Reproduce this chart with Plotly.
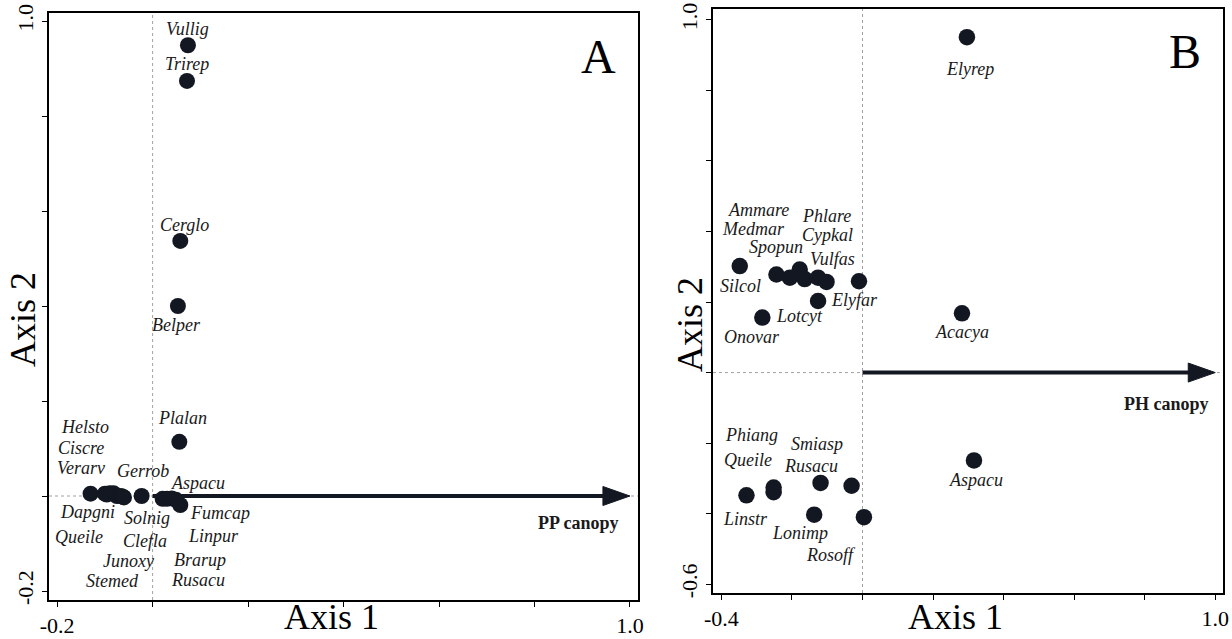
import plotly.graph_objects as go

# ---------------- Data ----------------
# Panel A (PP canopy)
a_species = ["Vullig", "Trirep", "Cerglo", "Belper", "Plalan", "Dapgni", "Helsto", "Ciscre",
             "Verarv", "Queile", "Stemed", "Junoxy", "Clefla", "Solnig", "Gerrob", "Aspacu",
             "Rusacu", "Linpur", "Brarup", "Fumcap"]
a_axis1 = [0.074, 0.072, 0.058, 0.053, 0.056, -0.130, -0.100, -0.090, -0.082, -0.075, -0.096,
           -0.060, -0.066, -0.062, -0.023, 0.021, 0.030, 0.040, 0.049, 0.058]
a_axis2 = [0.949, 0.874, 0.537, 0.400, 0.114, 0.005, 0.005, 0.006, 0.006, 0.000, 0.003,
           -0.003, 0.000, -0.002, 0.000, -0.006, -0.006, -0.005, -0.008, -0.019]
a_env_name = "PP canopy"
a_env_vector = (1.0, 0.0)

# Panel B (PH canopy)
b_species = ["Elyrep", "Acacya", "Aspacu", "Silcol", "Spopun", "Ammare", "Medmar", "Phlare",
             "Cypkal", "Vulfas", "Elyfar", "Lotcyt", "Onovar", "Linstr", "Phiang", "Queile",
             "Smiasp", "Rusacu", "Lonimp", "Rosoff"]
b_axis1 = [0.296, 0.282, 0.316, -0.348, -0.244, -0.206, -0.178, -0.164, -0.126, -0.102, -0.010,
           -0.126, -0.284, -0.329, -0.252, -0.252, -0.119, -0.031, -0.137, 0.004]
b_axis2 = [0.951, 0.168, -0.249, 0.302, 0.278, 0.269, 0.292, 0.265, 0.269, 0.257, 0.259,
           0.203, 0.156, -0.348, -0.326, -0.339, -0.313, -0.321, -0.403, -0.410]
b_env_name = "PH canopy"
b_env_vector = (1.0, 0.0)

# Tick labels
a_xticks = [-0.2, 0.0, 0.2, 0.4, 0.6, 0.8, 1.0]
a_xticktext = ["-0.2", "", "", "", "", "", "1.0"]
a_yticks = [-0.2, 0.0, 0.2, 0.4, 0.6, 0.8, 1.0]
a_yticktext = ["-0.2", "", "", "", "", "", "1.0"]
b_xticks = [-0.4, -0.2, 0.0, 0.2, 0.4, 0.6, 0.8, 1.0]
b_xticktext = ["-0.4", "", "", "", "", "", "", "1.0"]
b_yticks = [-0.6, -0.4, -0.2, 0.0, 0.2, 0.4, 0.6, 0.8, 1.0]
b_yticktext = ["-0.6", "", "", "", "", "", "", "", "1.0"]

# ---------------- Layout / label placement (styling) ----------------
W, H = 1232, 639
A_DOMX, A_DOMY = [0.0398, 0.5179], [0.061, 0.9797]
B_DOMX, B_DOMY = [0.5787, 0.9927], [0.072, 0.986]
A_RX, A_RY = [-0.217, 1.017], [-0.219, 1.017]
B_RX, B_RY = [-0.424, 1.022], [-0.625, 1.031]

a_label_pos = {
    "Vullig": (0.074, 0.983), "Trirep": (0.072, 0.909), "Cerglo": (0.066, 0.571),
    "Belper": (0.049, 0.360), "Plalan": (0.063, 0.164), "Dapgni": (-0.137, -0.034),
    "Helsto": (-0.141, 0.145), "Ciscre": (-0.150, 0.101), "Verarv": (-0.150, 0.059),
    "Queile": (-0.154, -0.086), "Stemed": (-0.085, -0.179), "Junoxy": (-0.051, -0.137),
    "Clefla": (-0.016, -0.095), "Solnig": (-0.012, -0.046), "Gerrob": (-0.020, 0.053),
    "Aspacu": (0.095, 0.027), "Rusacu": (0.096, -0.177), "Linpur": (0.127, -0.084),
    "Brarup": (0.099, -0.135), "Fumcap": (0.141, -0.036),
}
b_label_pos = {
    "Elyrep": (0.305, 0.861), "Acacya": (0.282, 0.115), "Aspacu": (0.322, -0.305),
    "Silcol": (-0.345, 0.245), "Spopun": (-0.244, 0.355), "Ammare": (-0.296, 0.462),
    "Medmar": (-0.308, 0.406), "Phlare": (-0.102, 0.444), "Cypkal": (-0.098, 0.389),
    "Vulfas": (-0.085, 0.323), "Elyfar": (-0.022, 0.205), "Lotcyt": (-0.178, 0.160),
    "Onovar": (-0.312, 0.101), "Linstr": (-0.331, -0.414), "Phiang": (-0.315, -0.176),
    "Queile": (-0.325, -0.249), "Smiasp": (-0.130, -0.203), "Rusacu": (-0.145, -0.266),
    "Lonimp": (-0.176, -0.455), "Rosoff": (-0.088, -0.518),
}
a_env_label_pos = (0.893, -0.057)
b_env_label_pos = (0.863, -0.090)

SERIF = "Liberation Serif"
DOT = "#121722"
CENTER = dict(xanchor="center", yanchor="middle", showarrow=False)

fig = go.Figure()
fig.add_trace(go.Scatter(x=a_axis1, y=a_axis2, mode="markers", xaxis="x", yaxis="y",
                         marker=dict(size=16, color=DOT), text=a_species, showlegend=False))
fig.add_trace(go.Scatter(x=b_axis1, y=b_axis2, mode="markers", xaxis="x2", yaxis="y2",
                         marker=dict(size=16.5, color=DOT), text=b_species, showlegend=False))

annotations = []
for sp in a_species:
    lx, ly = a_label_pos[sp]
    annotations.append(dict(x=lx, y=ly, xref="x", yref="y", text="<i>" + sp + "</i>",
                            font=dict(family=SERIF, size=18, color="#1a1a1a"), **CENTER))
for sp in b_species:
    lx, ly = b_label_pos[sp]
    annotations.append(dict(x=lx, y=ly, xref="x2", yref="y2", text="<i>" + sp + "</i>",
                            font=dict(family=SERIF, size=18, color="#1a1a1a"), **CENTER))

annotations.append(dict(x=a_env_label_pos[0], y=a_env_label_pos[1], xref="x", yref="y",
                        text="<b>" + a_env_name + "</b>",
                        font=dict(family=SERIF, size=18, color="#1a1a1a"), **CENTER))
annotations.append(dict(x=b_env_label_pos[0], y=b_env_label_pos[1], xref="x2", yref="y2",
                        text="<b>" + b_env_name + "</b>",
                        font=dict(family=SERIF, size=18, color="#1a1a1a"), **CENTER))

# Panel letters
annotations.append(dict(x=598 / W, y=1 - 57 / H, xref="paper", yref="paper", text="A",
                        font=dict(family=SERIF, size=48, color="black"), **CENTER))
annotations.append(dict(x=1185 / W, y=1 - 52 / H, xref="paper", yref="paper", text="B",
                        font=dict(family=SERIF, size=48, color="black"), **CENTER))

# Axis titles
for (tx, ty, txt, ang) in [(331, 617, "Axis 1", 0), (23, 320, "Axis 2", -90),
                           (955, 617, "Axis 1", 0), (690, 325, "Axis 2", -90)]:
    annotations.append(dict(x=tx / W, y=1 - ty / H, xref="paper", yref="paper", text=txt,
                            textangle=ang, font=dict(family=SERIF, size=36, color="black"),
                            **CENTER))

shapes = []


def add_panel_shapes(xref, yref, rx, ry, domx, domy, vec):
    # dotted reference lines at 0
    shapes.append(dict(type="line", xref=xref, yref=yref, x0=0, x1=0, y0=ry[0], y1=ry[1],
                       line=dict(color="#a0a0a0", width=1, dash="dot"), layer="below"))
    shapes.append(dict(type="line", xref=xref, yref=yref, x0=rx[0], x1=rx[1], y0=0, y1=0,
                       line=dict(color="#a0a0a0", width=1, dash="dot"), layer="below"))
    pxu_x = W * (domx[1] - domx[0]) / (rx[1] - rx[0])
    pxu_y = H * (domy[1] - domy[0]) / (ry[1] - ry[0])
    tipx, tipy = vec
    head_len, head_h = 27, 19
    basex = tipx - head_len / pxu_x
    half = head_h / 2 / pxu_y
    shapes.append(dict(type="line", xref=xref, yref=yref, x0=0, y0=0, x1=basex + 2 / pxu_x,
                       y1=tipy, line=dict(color=DOT, width=4)))
    shapes.append(dict(type="path", xref=xref, yref=yref,
                       path=f"M {tipx},{tipy} L {basex},{tipy + half} L {basex},{tipy - half} Z",
                       fillcolor=DOT, line=dict(color=DOT, width=1)))


add_panel_shapes("x", "y", A_RX, A_RY, A_DOMX, A_DOMY, a_env_vector)
add_panel_shapes("x2", "y2", B_RX, B_RY, B_DOMX, B_DOMY, b_env_vector)

axis_common = dict(showgrid=False, zeroline=False, showline=True, linecolor="black",
                   linewidth=1.5, mirror=True, ticks="outside", ticklen=5, tickwidth=1,
                   tickcolor="black", automargin=False,
                   tickfont=dict(family=SERIF, size=22, color="black"))

fig.update_layout(
    width=W, height=H, margin=dict(l=0, r=0, t=0, b=0, autoexpand=False),
    paper_bgcolor="white", plot_bgcolor="white", showlegend=False,
    font=dict(family=SERIF),
    xaxis=dict(domain=A_DOMX, range=A_RX, tickvals=a_xticks, ticktext=a_xticktext,
               anchor="y", **axis_common),
    yaxis=dict(domain=A_DOMY, range=A_RY, tickvals=a_yticks, ticktext=a_yticktext,
               anchor="x", tickangle=-90, **axis_common),
    xaxis2=dict(domain=B_DOMX, range=B_RX, tickvals=b_xticks, ticktext=b_xticktext,
                anchor="y2", **axis_common),
    yaxis2=dict(domain=B_DOMY, range=B_RY, tickvals=b_yticks, ticktext=b_yticktext,
                anchor="x2", tickangle=-90, **axis_common),
    annotations=annotations, shapes=shapes,
)

fig.write_html("out.html")
